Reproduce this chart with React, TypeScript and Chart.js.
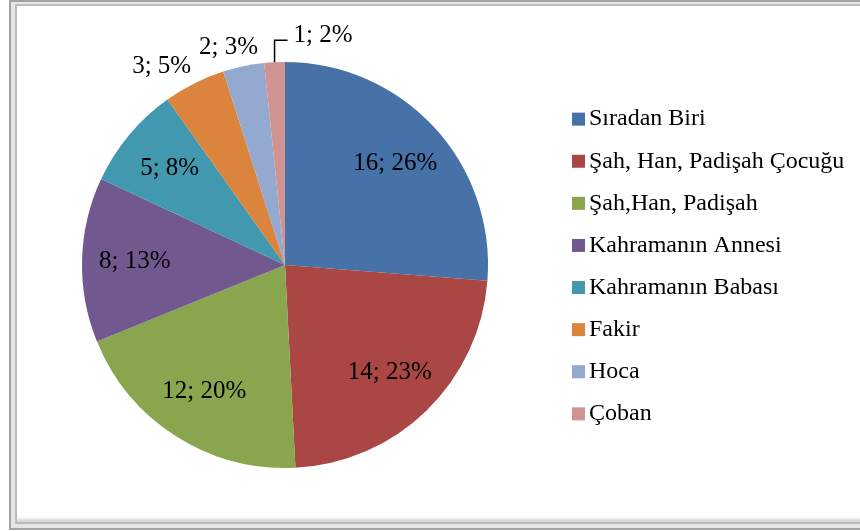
import React, { useEffect, useRef } from "react";
import { Chart, registerables } from "chart.js";
Chart.register(...registerables);

const categories = [
  "Sıradan Biri",
  "Şah, Han, Padişah Çocuğu",
  "Şah,Han, Padişah",
  "Kahramanın Annesi",
  "Kahramanın Babası",
  "Fakir",
  "Hoca",
  "Çoban",
];
const counts = [16, 14, 12, 8, 5, 3, 2, 1];
const colors = ["#4672A8", "#AA4644", "#89A54E", "#71588F", "#4298AF", "#DB843D", "#93A9CF", "#D19392"];

const FONT = '"Liberation Serif", "Times New Roman", serif';

const labelsPlugin = {
  id: "pieLabels",
  afterDatasetsDraw(chart: any) {
    const ctx = chart.ctx as CanvasRenderingContext2D;
    const meta = chart.getDatasetMeta(0);
    const data = chart.data.datasets[0].data as number[];
    const total = data.reduce((a, b) => a + b, 0);
    ctx.save();
    ctx.fillStyle = "#000";
    ctx.font = `25px ${FONT}`;
    ctx.textBaseline = "middle";
    meta.data.forEach((el: any, i: number) => {
      const { x, y, startAngle, endAngle, outerRadius } = el.getProps(
        ["x", "y", "startAngle", "endAngle", "outerRadius"],
        true
      );
      const mid = (startAngle + endAngle) / 2;
      const c = Math.cos(mid);
      const s = Math.sin(mid);
      const frac = data[i] / total;
      const text = `${data[i]}; ${Math.round(frac * 100)}%`;
      const w = ctx.measureText(text).width;
      if (frac >= 0.06) {
        ctx.textAlign = "center";
        const r = outerRadius * 0.74;
        ctx.fillText(text, x + c * r, y + s * r);
      } else if (frac >= 0.025) {
        const r = outerRadius + 8;
        const px = x + c * r;
        const py = y + s * r;
        ctx.textAlign = "center";
        ctx.fillText(text, px + c * w * 1.1, py + s * 11);
      } else {
        const px = x + c * outerRadius;
        const py = y + s * outerRadius;
        ctx.strokeStyle = "#000";
        ctx.lineWidth = 1.5;
        ctx.beginPath();
        ctx.moveTo(px, py);
        ctx.lineTo(px, py - 22);
        ctx.lineTo(px + 13, py - 22);
        ctx.stroke();
        ctx.textAlign = "left";
        ctx.fillText(text, px + 19, py - 27);
      }
    });
    ctx.restore();
  },
};

const legendPlugin = {
  id: "sideLegend",
  afterDraw(chart: any) {
    const ctx = chart.ctx as CanvasRenderingContext2D;
    const ca = chart.chartArea;
    const labels = chart.data.labels as string[];
    const bg = chart.data.datasets[0].backgroundColor as string[];
    const x0 = ca.right + 19;
    const cy = (ca.top + ca.bottom) / 2 + 1.5;
    const n = labels.length;
    ctx.save();
    ctx.font = `24px ${FONT}`;
    ctx.textBaseline = "middle";
    ctx.textAlign = "left";
    labels.forEach((l, i) => {
      const y = cy + (i - (n - 1) / 2) * 42.1;
      ctx.fillStyle = bg[i];
      ctx.fillRect(x0, y - 6.5, 13, 13);
      ctx.fillStyle = "#000";
      ctx.fillText(l, x0 + 17, y);
    });
    ctx.restore();
  },
};

export default function App() {
  const ref = useRef<HTMLCanvasElement>(null);
  useEffect(() => {
    const chart = new Chart(ref.current as HTMLCanvasElement, {
      type: "pie",
      data: {
        labels: categories,
        datasets: [{ data: counts, backgroundColor: colors, borderWidth: 0 }],
      },
      options: {
        responsive: false,
        animation: false,
        layout: { padding: { left: 17, right: 307, top: 62, bottom: 63 } },
        plugins: { legend: { display: false }, tooltip: { enabled: false } },
      },
      plugins: [labelsPlugin, legendPlugin],
    } as any);
    return () => chart.destroy();
  }, []);
  return (
    <div
      style={{
        position: "fixed",
        left: 0,
        top: 0,
        width: 860,
        height: 531,
        overflow: "hidden",
        background: "#fff",
      }}
    >
      <div
        style={{
          position: "absolute",
          left: 9,
          top: 0,
          width: 900,
          height: 530,
          boxSizing: "border-box",
          border: "2px solid #a3a3a3",
          background: "#e6e6e6",
        }}
      />
      <div
        style={{
          position: "absolute",
          left: 15,
          top: 4,
          width: 900,
          height: 520,
          boxSizing: "border-box",
          border: "2px solid #bcbcbc",
          background: "#fff",
          boxShadow: "inset 0 -5px 3px -2px #d6d6d6",
        }}
      />
      <canvas
        ref={ref}
        width={860}
        height={531}
        style={{ position: "absolute", left: 0, top: 0 }}
      />
    </div>
  );
}
